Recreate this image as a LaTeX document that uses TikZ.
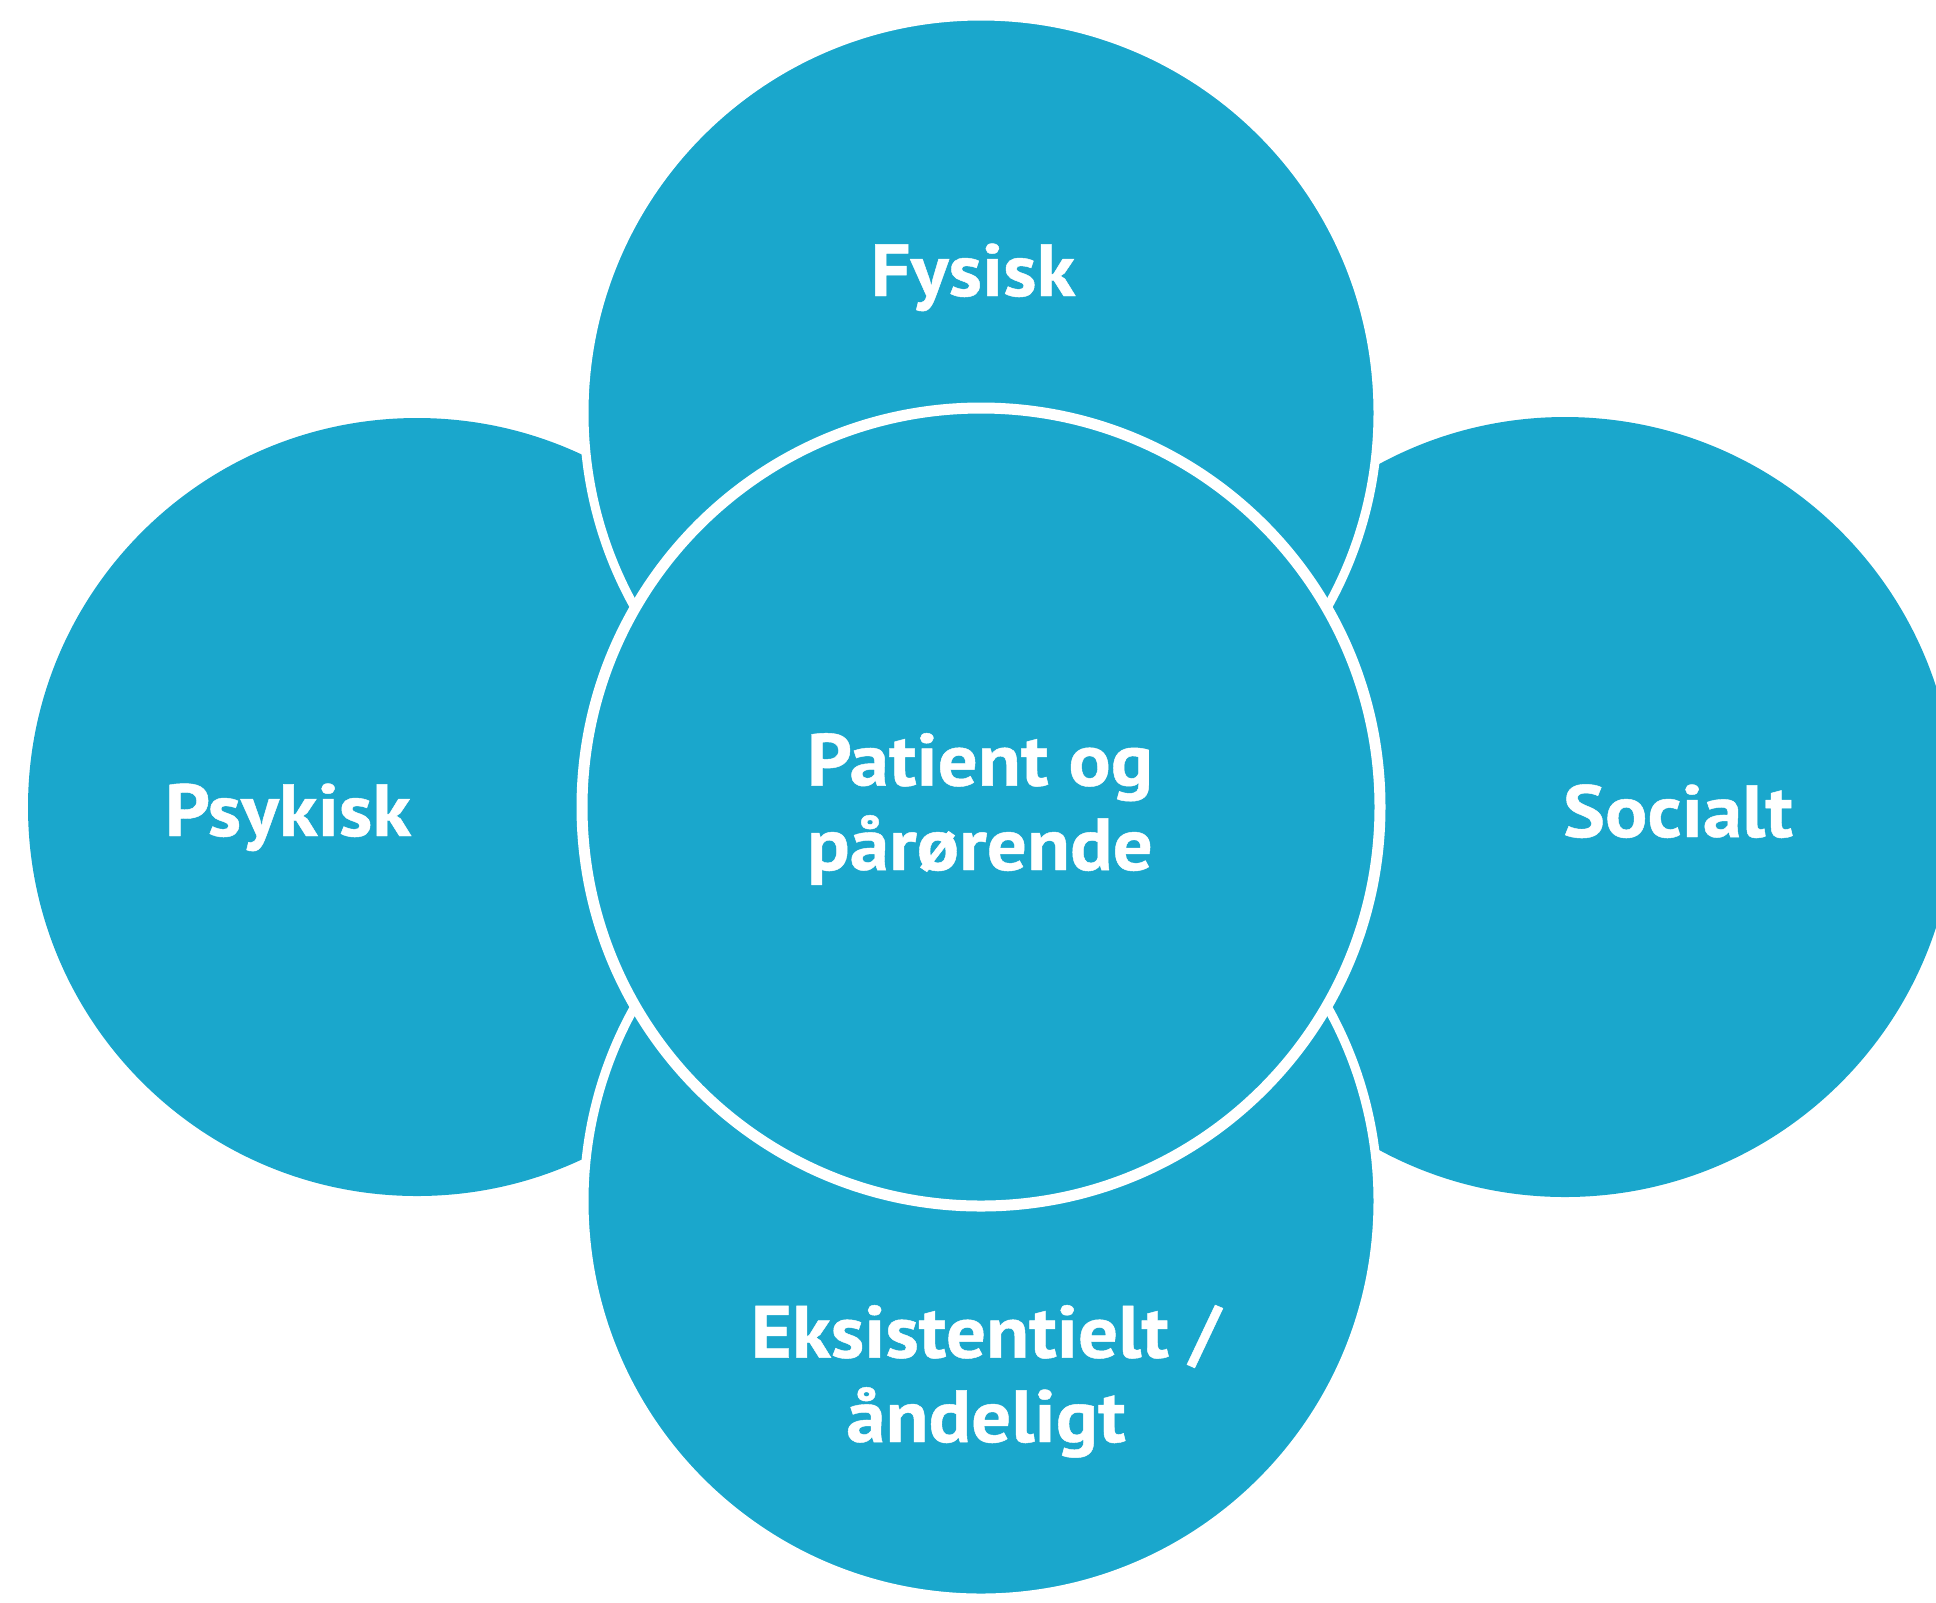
\documentclass[tikz,border=0pt]{standalone}
\usepackage{fontspec}
\setmainfont{PT Sans}[BoldFeatures={FakeBold=0.6, FakeStretch=1.07}]
\usepackage{xcolor}
\usepackage{tikz}
\definecolor{blu}{RGB}{26,167,204}

\begin{document}
\begin{tikzpicture}[x=0.01cm, y=-0.01cm,
		disc/.style={fill=blu},
		ring/.style={fill=blu, draw=white, line width=9*0.01cm},
		lbl/.style={text=white, align=center, font=\fontsize{21}{24}\selectfont\bfseries}]
		\useasboundingbox (0,0) rectangle (1936,1602);
		\clip (0,0) rectangle (1936,1602);

		\fill[disc] (417, 807) circle (389);
		\fill[disc] (1565, 807) circle (390);
		\filldraw[ring] (981, 413) circle (397);
		\filldraw[ring] (981, 1201) circle (397);
		\filldraw[ring, line width=11*0.01cm] (981, 807) circle (399);

		\node (fysisk) at (973, 296) [lbl, anchor=base] {Fysisk};
		\node (psykisk) at (288, 836) [lbl, anchor=base] {Psykisk};
		\node (socialt) at (1678, 837) [lbl, anchor=base] {Socialt};
		\node (patient) at (980, 870) [lbl, anchor=base] {Patient og\\pårørende};
		\node (eksist) at (986, 1442) [lbl, anchor=base] {Eksistentielt /\\åndeligt};
	\end{tikzpicture}
\end{document}
